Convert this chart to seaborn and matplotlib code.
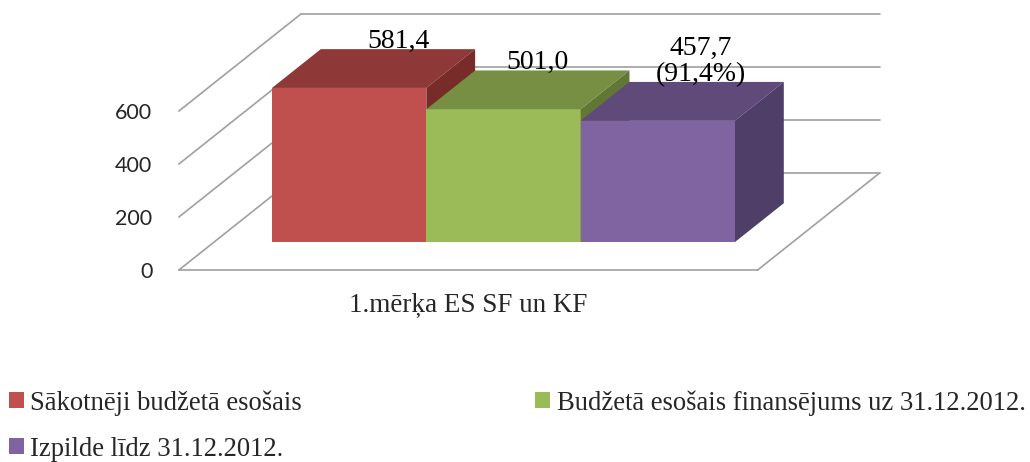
import numpy as np
import pandas as pd
import matplotlib
matplotlib.use("Agg")
import matplotlib.pyplot as plt
import seaborn as sns
from matplotlib.patches import Polygon, Patch

# ---- data ----
categories = ["1.mērķa ES SF un KF"]
series = ["Sākotnēji budžetā esošais",
          "Budžetā esošais finansējums uz 31.12.2012.",
          "Izpilde līdz 31.12.2012."]
values = [581.4, 501.0, 457.7]
yticks = [0, 200, 400, 600]

front_colors = ["#C0504D", "#9BBB59", "#8064A2"]
top_colors = ["#8E3937", "#768F42", "#5F4A7A"]
side_colors = ["#772C2A", "#617736", "#4F3E67"]
grid_color = "#A0A0A0"

def fmt(v):
    return f"{v:.1f}".replace(".", ",")

pct = values[2] / values[1] * 100
labels = [fmt(values[0]), fmt(values[1]), f"{fmt(values[2])}\n({fmt(pct)}%)"]

df = pd.DataFrame({"category": categories * len(series),
                   "series": series,
                   "value": values})

sns.set_theme(style="white")
plt.rcParams["font.family"] = ["Liberation Serif", "DejaVu Serif"]

W, H = 1030, 462
fig = plt.figure(figsize=(W / 100, H / 100), dpi=100)
ax = fig.add_axes([0, 0, 1, 1])

sns.barplot(data=df, x="category", y="value", hue="series",
            palette=front_colors, saturation=1, width=0.8,
            edgecolor="none", linewidth=0, legend=False, ax=ax)

# pseudo-3D projection set-up (pixels per data unit)
xpx = 578.75          # px per category unit
upx = 1 / 3.774       # px per value unit
x0px, y0px = 503.5, 242
ax.set_xlim(-x0px / xpx, (W - x0px) / xpx)
ax.set_ylim(-(H - y0px) / upx, y0px / upx)
ax.axis("off")

# depth vector (full floor depth) in data units
ddx, ddy = 122 / xpx, 97 / upx
f_front, f_back = -0.289, 0.711
fx, fy = f_front * ddx, f_front * ddy
bx, by = f_back * ddx, f_back * ddy
bdx, bdy = 0.40 * ddx, 0.40 * ddy
xl, xr = -0.5, 0.5
ymax = max(yticks)

# walls and floor
lw = 1.2
for v in yticks:
    ax.plot([xl + fx, xl + bx], [v + fy, v + by], color=grid_color, lw=lw, zorder=1)
    ax.plot([xl + bx, xr + bx], [v + by, v + by], color=grid_color, lw=lw, zorder=1)
ax.plot([xl + fx, xr + fx], [fy, fy], color=grid_color, lw=lw, zorder=1)
ax.plot([xr + fx, xr + bx], [fy, by], color=grid_color, lw=lw, zorder=1)

# 3D faces for bars
bars = sorted([p for p in ax.patches], key=lambda p: p.get_x())
label_shift = [0.0, -0.025, -0.01]
for i, p in enumerate(bars):
    x0, w, h = p.get_x(), p.get_width(), p.get_height()
    x1 = x0 + w
    p.set_zorder(10 + 3 * i)
    top = Polygon([(x0, h), (x1, h), (x1 + bdx, h + bdy), (x0 + bdx, h + bdy)],
                  closed=True, facecolor=top_colors[i], edgecolor="none", zorder=11 + 3 * i)
    side = Polygon([(x1, 0), (x1, h), (x1 + bdx, h + bdy), (x1 + bdx, bdy)],
                   closed=True, facecolor=side_colors[i], edgecolor="none", zorder=12 + 3 * i)
    ax.add_patch(top)
    ax.add_patch(side)
    ax.annotate(labels[i], (x0 + w / 2 + bdx + label_shift[i], h + bdy), xytext=(0, -3.5),
                textcoords="offset points", ha="center", va="bottom",
                fontsize=20, linespacing=1.05, color="#000000", zorder=40)

# front axis (ticks + category label) placed on the floor's front plane
to_fig = fig.transFigure.inverted()
(px0, py0) = to_fig.transform(ax.transData.transform((xl + fx, fy)))
(px1, py1) = to_fig.transform(ax.transData.transform((xr + fx, ymax + fy)))
axf = fig.add_axes([px0, py0, px1 - px0, py1 - py0])
axf.set_facecolor("none")
axf.set_xlim(xl, xr)
axf.set_ylim(0, ymax)
for s in axf.spines.values():
    s.set_visible(False)
axf.set_yticks(yticks)
axf.set_yticklabels([str(t) for t in yticks], fontsize=15.5, family=["Lato", "DejaVu Sans"])
axf.set_xticks([0])
axf.set_xticklabels(categories, fontsize=19.5)
axf.tick_params(axis="y", length=0, pad=19)
axf.tick_params(axis="x", length=0, pad=16)
axf.grid(False)

# legend (row-wise order: s0, s1 / s2)
handles = [Patch(facecolor=c, edgecolor="none") for c in front_colors]
order = [0, 2, 1]
fig.legend([handles[k] for k in order], [series[k] for k in order],
           loc="upper left", bbox_to_anchor=(9 / W, 1 - 390 / H),
           ncol=2, frameon=False, fontsize=19.2, handlelength=0.55, handleheight=0.55,
           handletextpad=0.25, columnspacing=8.75, labelspacing=0.8, borderpad=0,
           borderaxespad=0)

fig.savefig("out.png", dpi=100)
